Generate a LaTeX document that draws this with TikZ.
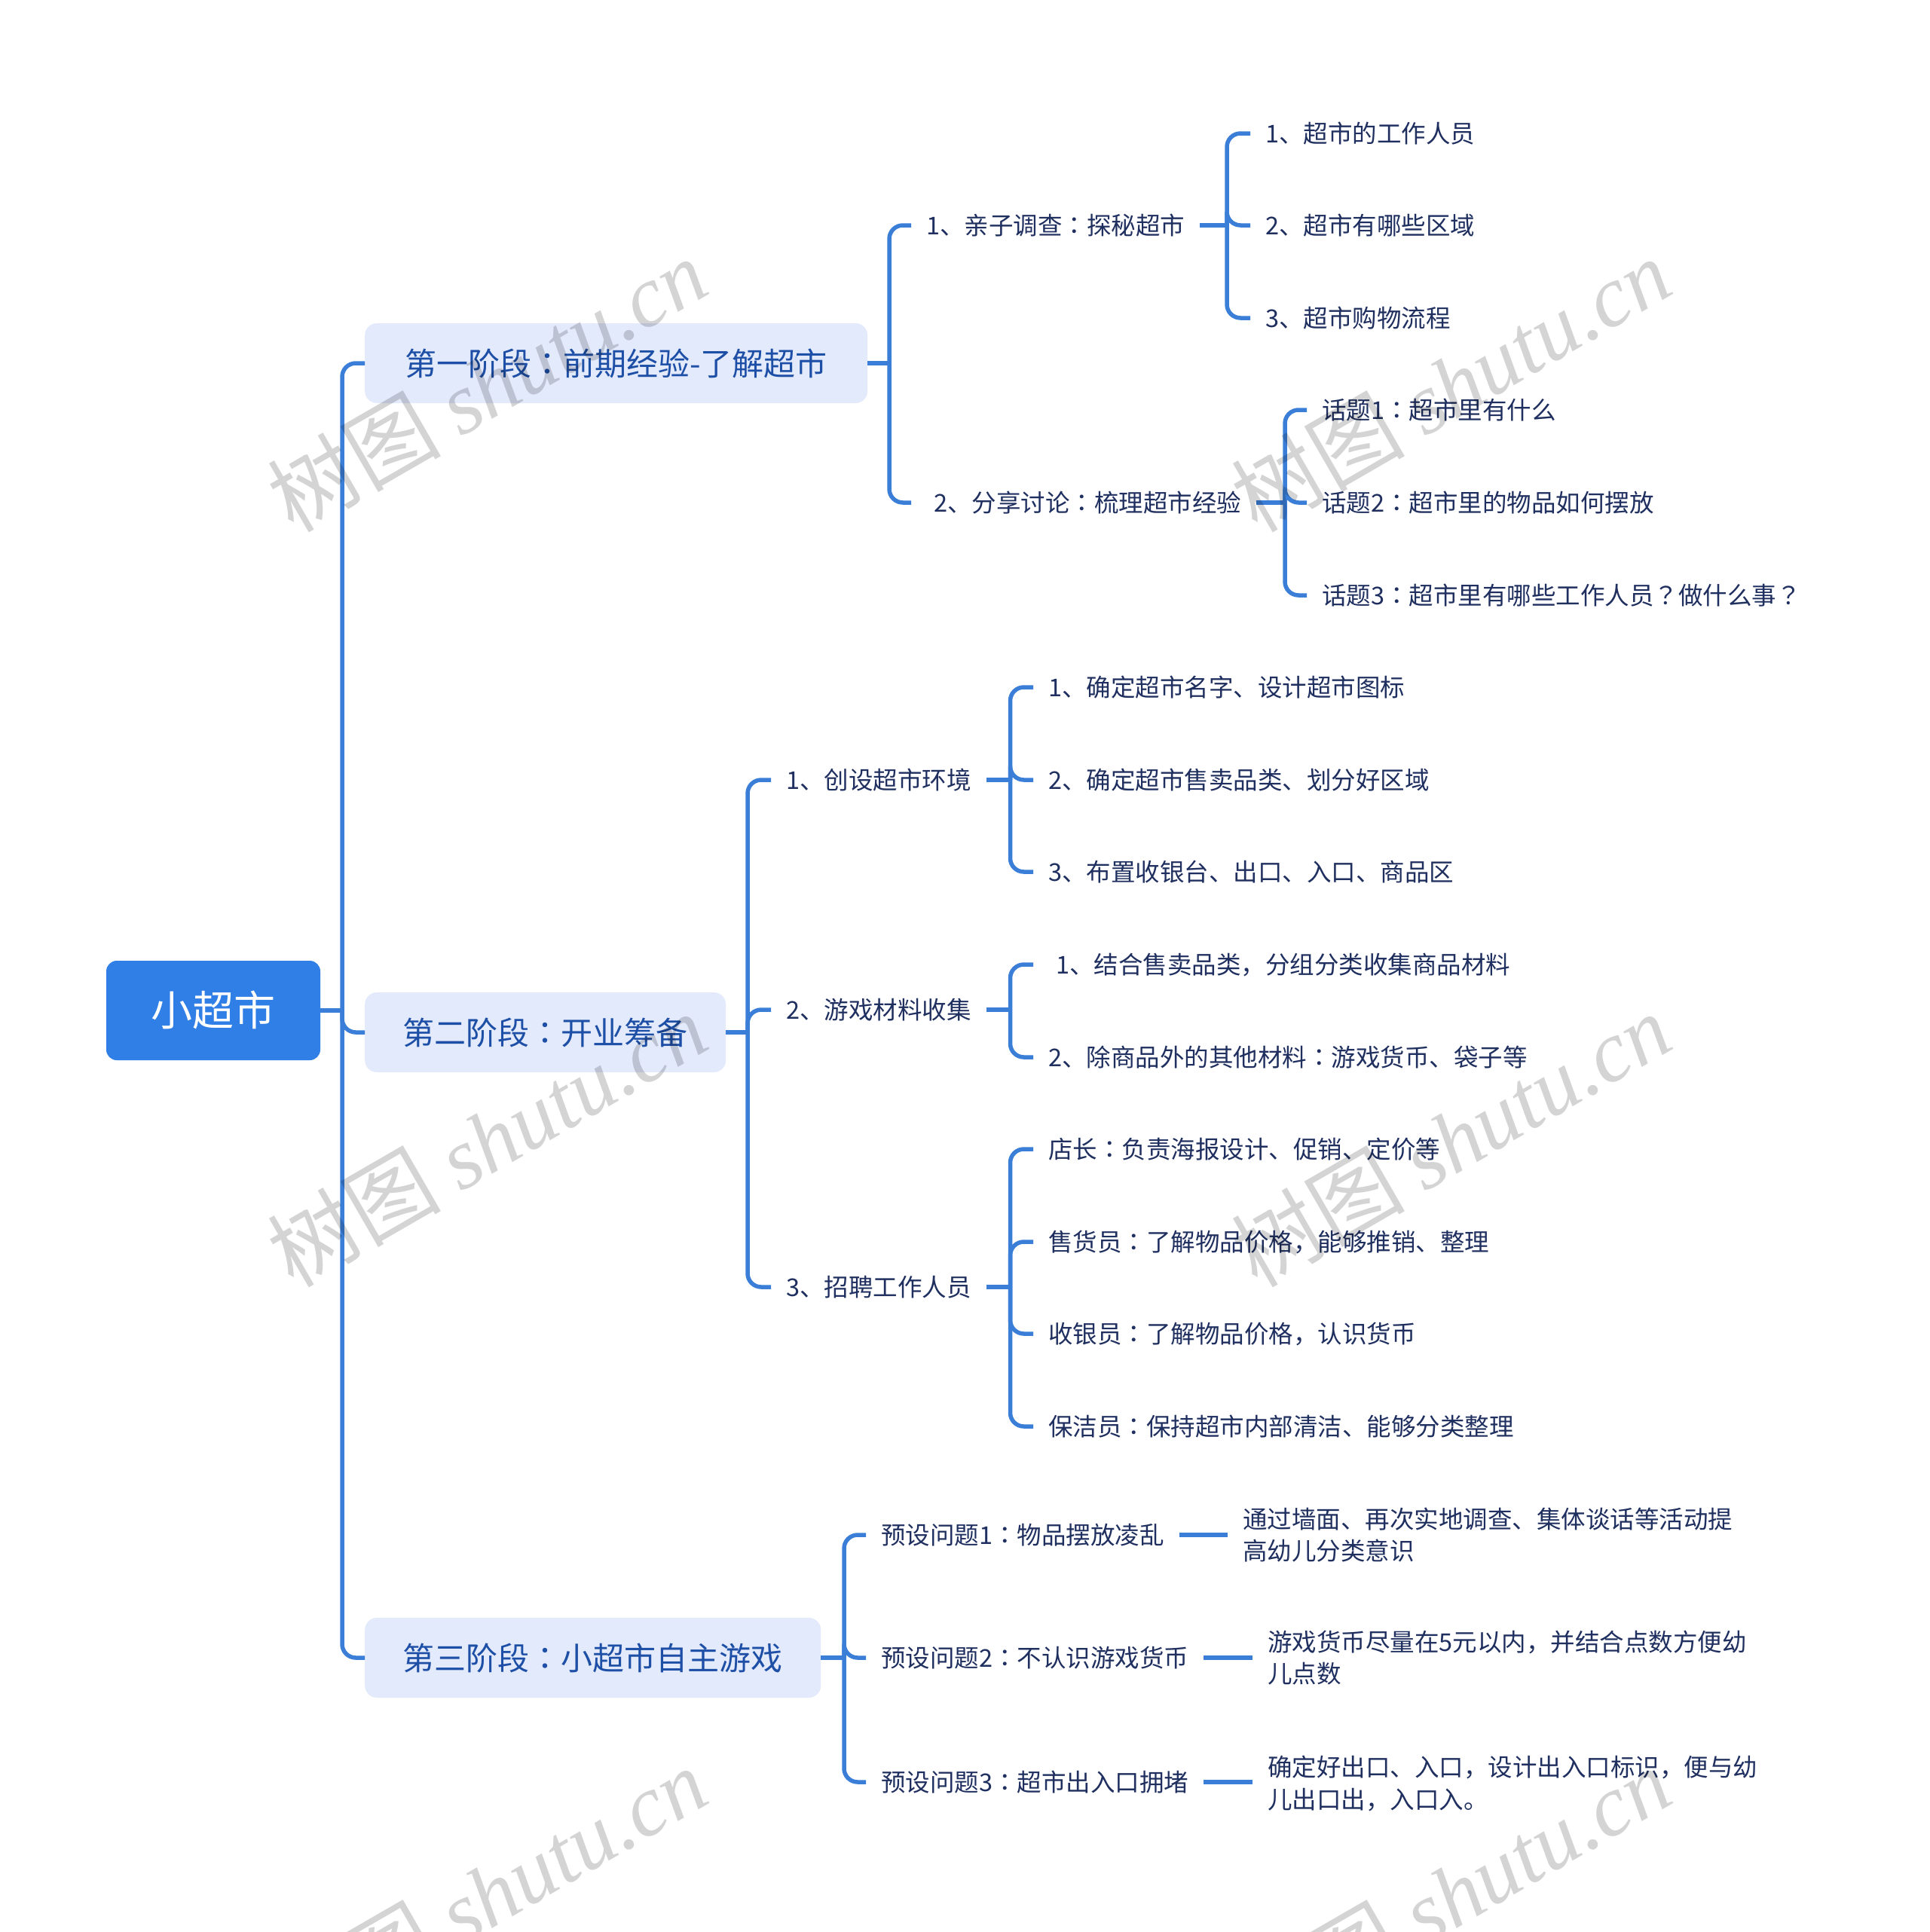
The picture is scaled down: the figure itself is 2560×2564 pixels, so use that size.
\documentclass[tikz,border=0pt]{standalone}
\usepackage{fontspec}
\setmainfont{Noto Sans CJK SC}
\newfontfamily\tcpunct{Noto Sans CJK TC}
\newfontfamily\wmlatin{Liberation Serif}
\newcommand\qcol{{\tcpunct ：}}
\newcommand\qcom{，}
\newcommand\qque{{\tcpunct ？}}
\definecolor{rootblue}{HTML}{2F7FE6}
\definecolor{linec}{HTML}{3A7ED8}
\definecolor{boxfill}{HTML}{E3EAFC}
\definecolor{ltext}{HTML}{1D4FA6}
\definecolor{leaftext}{HTML}{1F2F5F}
\tikzset{
  conn/.style={draw=linec, line width=5.5pt, rounded corners=18pt},
  leaf/.style={anchor=west, inner sep=0pt, text=leaftext,
    font=\fontsize{32.5pt}{42.5pt}\selectfont, text height=28.6pt, text depth=3.9pt},
  leafml/.style={anchor=west, inner sep=0pt, text=leaftext, align=left,
    font=\fontsize{32.5pt}{42.5pt}\selectfont},
  stagebox/.style={anchor=west, fill=boxfill, rounded corners=16pt, minimum height=106pt,
    inner sep=0pt, text=ltext, font=\fontsize{42pt}{50pt}\selectfont,
    text height=37pt, text depth=5pt},
  rootbox/.style={fill=rootblue, rounded corners=14pt, minimum width=284pt,
    minimum height=132pt, inner sep=0pt, text=white,
    font=\fontsize{55pt}{64pt}\selectfont, text height=48.4pt, text depth=6.6pt},
  wmark/.style={rotate=30, text=black, text opacity=0.17,
    font=\fontsize{115pt}{120pt}\selectfont}
}
\newcommand\fan[5]{%
  \coordinate (ps) at ([xshift=#2]#1.east);
  \coordinate (vx) at (#3,0);
  \draw[conn] (ps) -- (ps -| vx);
  \foreach \kid in {#4}{\draw[conn] (ps -| vx) |- ([xshift=-#5]\kid.west);}
}
\begin{document}
\begin{tikzpicture}[x=1pt,y=-1pt]
\fill[white] (0,0) rectangle (2560,2564);
\useasboundingbox (0,0) rectangle (2560,2564);

% root and stages
\node[rootbox] (root) at (283,1341) {小超市};
\node[stagebox, minimum width=667pt] (b1) at (484,482) {第一阶段\qcol 前期经验-了解超市};
\node[stagebox, minimum width=479pt] (b2) at (484,1370) {第二阶段\qcol 开业筹备};
\node[stagebox, minimum width=605pt] (b3) at (484,2200) {第三阶段\qcol 小超市自主游戏};

% stage 1
\node[leaf] (a1) at (1229,299) {1、亲子调查\qcol 探秘超市};
\node[leaf] (a2) at (1229,667) {\hspace*{10pt}2、分享讨论\qcol 梳理超市经验};
\node[leaf] (a11) at (1679,177) {1、超市的工作人员};
\node[leaf] (a12) at (1679,299) {2、超市有哪些区域};
\node[leaf] (a13) at (1679,422) {3、超市购物流程};
\node[leaf] (a21) at (1754,544) {话题1\qcol 超市里有什么};
\node[leaf] (a22) at (1754,667) {话题2\qcol 超市里的物品如何摆放};
\node[leaf] (a23) at (1754,790) {话题3\qcol 超市里有哪些工作人员\qque 做什么事\qque};

% stage 2
\node[leaf] (c1) at (1043,1035) {1、创设超市环境};
\node[leaf] (c2) at (1043,1340) {2、游戏材料收集};
\node[leaf] (c3) at (1043,1708) {3、招聘工作人员};
\node[leaf] (c11) at (1391,912) {1、确定超市名字、设计超市图标};
\node[leaf] (c12) at (1391,1035) {2、确定超市售卖品类、划分好区域};
\node[leaf] (c13) at (1391,1157) {3、布置收银台、出口、入口、商品区};
\node[leaf] (c21) at (1391,1280) {\hspace*{10pt}1、结合售卖品类\qcom 分组分类收集商品材料};
\node[leaf] (c22) at (1391,1403) {2、除商品外的其他材料\qcol 游戏货币、袋子等};
\node[leaf] (c31) at (1391,1525) {店长\qcol 负责海报设计、促销、定价等};
\node[leaf] (c32) at (1391,1648) {售货员\qcol 了解物品价格\qcom 能够推销、整理};
\node[leaf] (c33) at (1391,1770) {收银员\qcol 了解物品价格\qcom 认识货币};
\node[leaf] (c34) at (1391,1893) {保洁员\qcol 保持超市内部清洁、能够分类整理};

% stage 3
\node[leaf] (q1) at (1169,2037) {预设问题1\qcol 物品摆放凌乱};
\node[leaf] (q2) at (1169,2200) {预设问题2\qcol 不认识游戏货币};
\node[leaf] (q3) at (1169,2365) {预设问题3\qcol 超市出入口拥堵};
\node[leafml] (d1) at (1649,2037) {通过墙面、再次实地调查、集体谈话等活动提\\高幼儿分类意识};
\node[leafml] (d2) at (1682,2200) {游戏货币尽量在5元以内\qcom 并结合点数方便幼\\儿点数};
\node[leafml] (d3) at (1682,2367) {确定好出口、入口\qcom 设计出入口标识\qcom 便与幼\\儿出口出\qcom 入口入。};

% connectors
\fan{root}{0pt}{454}{b1,b2,b3}{0pt}
\fan{b1}{0pt}{1180}{a1,a2}{20pt}
\fan{a1}{20pt}{1628}{a11,a12,a13}{20pt}
\fan{a2}{20pt}{1705}{a21,a22,a23}{20pt}
\fan{b2}{0pt}{992}{c1,c2,c3}{20pt}
\fan{c1}{20pt}{1340.5}{c11,c12,c13}{20pt}
\fan{c2}{20pt}{1340.5}{c21,c22}{20pt}
\fan{c3}{20pt}{1340.5}{c31,c32,c33,c34}{20pt}
\fan{b3}{0pt}{1120}{q1,q2,q3}{20pt}
\draw[conn] ([xshift=20pt]q1.east) -- ([xshift=-20pt]d1.west |- q1.east);
\draw[conn] ([xshift=20pt]q2.east) -- ([xshift=-20pt]d2.west |- q2.east);
\draw[conn] ([xshift=20pt]q3.east) -- ([xshift=-20pt]d3.west |- q3.east);

% watermarks
\node[wmark] (w1) at (646,510) {树图 {\wmlatin\itshape shutu.cn}};
\node[wmark] (w2) at (1925,510) {树图 {\wmlatin\itshape shutu.cn}};
\node[wmark] (w3) at (646,1512) {树图 {\wmlatin\itshape shutu.cn}};
\node[wmark] (w4) at (1925,1512) {树图 {\wmlatin\itshape shutu.cn}};
\node[wmark] (w5) at (646,2513) {树图 {\wmlatin\itshape shutu.cn}};
\node[wmark] (w6) at (1925,2513) {树图 {\wmlatin\itshape shutu.cn}};
\end{tikzpicture}
\end{document}
